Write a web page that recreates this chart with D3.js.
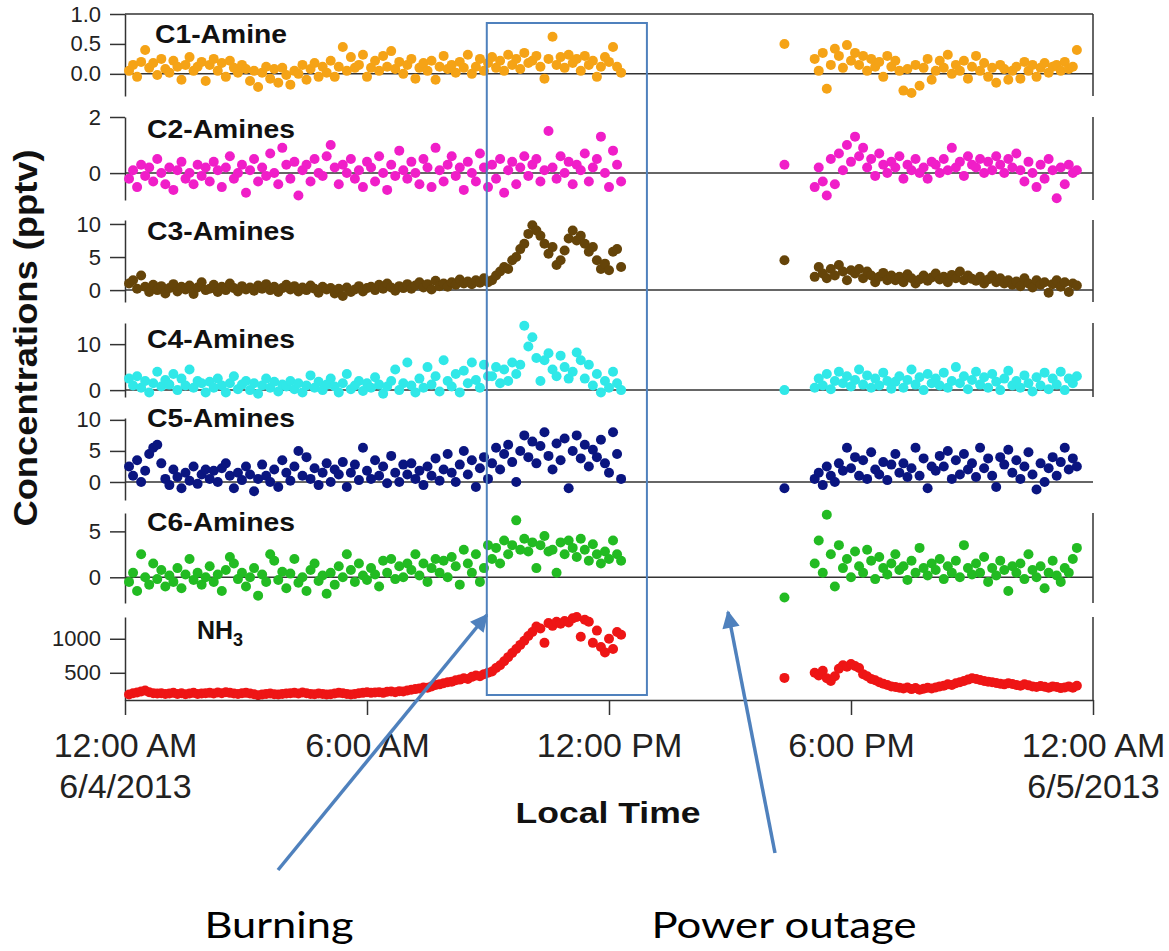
<!DOCTYPE html>
<html>
<head>
<meta charset="utf-8">
<script src="https://cdn.jsdelivr.net/npm/d3@7"></script>
<style>
  body { margin: 0; background: #fff; }
  svg { font-family: "Liberation Sans", Arial, sans-serif; }
</style>
</head>
<body>
<svg id="chart" width="1169" height="951"></svg>
<script>
// sampling: one reading every 6 minutes, morning run + evening run, one lone reading in between
var hoursA = d3.range(123).map(i => 0.1 + i * 0.1);   // 0:06 .. 12:18
var hoursB = d3.range(66).map(i => 17.1 + i * 0.1);   // 17:06 .. 23:36
var isoHour = 16.35;

var xTickHours = [0, 6, 12, 18, 24];

// C1-Amine (pptv)
var c1A = [0.05,0.15,-0.05,0.20,0.40,0.10,0.18,-0.02,0.25,0.08,
  0.02,0.22,0.12,-0.10,0.15,0.28,0.05,0.12,0.20,-0.12,
  0.15,0.25,0.05,0.18,-0.05,0.22,0.10,0.02,0.15,0.08,
  -0.12,0.05,-0.22,0.02,0.12,-0.08,0.08,-0.15,0.10,-0.02,
  -0.18,0.05,0.00,0.15,-0.10,0.08,0.18,-0.05,0.12,0.02,
  0.22,-0.05,0.12,0.45,0.05,0.28,0.10,0.15,0.32,-0.05,
  0.10,0.22,0.05,0.30,0.12,0.38,0.08,0.20,0.00,0.15,
  0.25,-0.08,0.10,0.18,0.05,0.22,-0.10,0.12,0.30,0.08,
  0.15,0.02,0.20,0.10,0.32,0.00,0.12,0.25,0.05,0.18,
  0.28,0.10,0.22,0.05,0.32,0.15,0.25,0.08,0.35,0.18,
  0.22,0.30,0.12,-0.08,0.25,0.62,0.15,0.28,0.10,0.32,
  0.18,0.25,0.05,0.30,0.15,0.22,-0.05,0.12,0.28,0.20,
  0.45,0.12,0.02];
var c1Iso = 0.50;
var c1B = [0.25,0.05,0.35,-0.25,0.15,0.42,0.30,0.10,0.48,0.22,
  0.35,0.15,0.30,0.05,0.25,0.12,0.20,-0.05,0.30,0.12,
  0.22,0.05,-0.28,0.08,-0.32,0.15,-0.20,0.10,0.25,-0.10,
  0.05,0.22,0.10,0.32,0.00,0.15,0.05,0.22,-0.08,0.12,
  0.30,0.05,0.18,-0.05,0.10,-0.15,0.15,0.08,-0.10,0.05,
  0.12,-0.08,0.20,0.05,0.15,-0.05,0.10,0.18,0.02,0.12,
  0.15,0.05,0.20,0.08,0.12,0.40];

// C2-Amines
var c2A = [-0.2,0.1,-0.5,0.3,-0.1,0.2,-0.3,0.5,0.0,-0.4,
  0.2,-0.6,0.1,0.4,-0.2,0.0,-0.4,0.3,-0.1,0.2,
  -0.3,0.4,0.1,-0.5,0.2,0.6,-0.2,0.0,0.3,-0.7,
  0.1,0.5,-0.3,0.2,-0.1,0.7,0.0,-0.4,0.9,0.3,
  -0.2,0.4,-0.8,0.1,0.3,-0.3,0.5,0.0,-0.1,0.6,
  1.0,0.2,-0.4,0.3,0.0,0.5,-0.2,0.1,-0.5,0.4,
  0.2,-0.3,0.6,0.0,-0.6,0.3,-0.1,0.8,0.1,-0.2,
  0.4,0.0,-0.4,0.5,0.2,-0.5,0.9,0.1,-0.3,0.3,
  0.6,-0.1,0.2,-0.6,0.4,0.0,-0.3,0.7,0.2,-0.5,
  0.3,-0.2,0.5,-0.7,0.1,0.4,-0.4,0.2,0.6,-0.1,
  0.3,0.5,-0.3,0.1,1.5,0.2,-0.2,0.6,0.0,0.4,
  -0.4,0.3,0.1,0.7,-0.3,0.2,0.5,1.3,0.0,-0.5,
  0.8,0.3,-0.3];
var c2Iso = 0.3;
var c2B = [-0.5,0.2,-0.3,-0.8,0.5,-0.4,0.7,0.1,1.0,0.4,
  1.3,0.6,0.9,0.2,0.5,-0.1,0.7,0.3,0.0,0.4,
  0.2,0.6,-0.2,0.3,0.1,0.5,0.0,0.2,-0.2,0.4,
  0.3,0.0,0.5,0.1,0.9,0.2,0.4,-0.1,0.6,0.3,
  0.2,0.5,0.0,0.4,0.1,0.6,0.3,0.0,0.5,0.2,
  0.7,0.1,-0.3,0.4,0.0,-0.5,0.3,-0.2,0.5,0.1,
  -0.9,0.2,-0.4,0.3,0.0,0.1];

// C3-Amines
var c3A = [1.0,1.5,0.2,2.2,0.5,-0.3,0.8,0.0,0.6,-0.5,
  0.3,0.9,-0.2,0.5,0.1,0.7,-0.6,0.4,1.2,0.0,
  0.2,0.8,-0.3,0.5,0.0,1.0,0.3,-0.2,0.6,0.1,
  0.4,-0.1,0.7,0.2,0.9,0.0,0.5,-0.3,0.3,0.8,
  0.1,0.6,-0.2,0.4,0.0,0.7,0.2,-0.4,0.5,0.1,
  0.3,-0.5,0.2,-0.9,0.4,-0.3,0.1,0.6,-0.2,0.3,
  0.5,0.0,0.8,0.2,1.0,0.4,-0.1,0.6,0.3,0.9,
  0.2,0.7,1.2,0.4,0.9,0.1,1.4,0.6,1.0,0.5,
  1.2,0.8,1.6,1.0,1.3,0.9,1.5,1.1,1.8,1.2,
  1.5,2.2,2.8,3.5,3.2,4.5,5.0,6.2,7.0,8.5,
  9.8,9.0,8.2,7.0,5.5,6.5,3.8,4.5,6.0,7.8,
  9.0,7.5,8.2,7.0,5.8,6.5,4.5,3.2,4.0,3.0,
  5.8,6.2,3.5];
var c3Iso = 4.5;
var c3B = [2.0,3.5,2.5,1.8,3.2,2.2,3.8,2.8,1.5,3.0,
  2.5,3.2,1.8,2.8,2.2,1.2,2.0,2.6,1.5,2.2,
  1.5,2.0,1.2,2.4,1.8,1.0,1.6,2.2,1.4,1.9,
  2.5,1.6,2.0,1.2,2.3,1.8,2.8,1.5,2.2,1.7,
  1.4,2.0,1.0,1.6,2.2,1.2,1.8,1.0,1.5,0.8,
  1.3,0.6,1.8,1.0,0.4,1.5,0.8,1.2,-0.4,0.9,
  1.5,0.5,1.2,-0.3,1.0,0.7];

// C4-Amines
var c4A = [2.5,1.0,3.0,0.5,2.0,-0.5,1.5,4.0,0.8,2.2,
  1.2,3.5,0.0,2.5,1.0,4.5,0.5,2.0,1.5,-0.5,
  1.8,0.5,2.5,1.0,-0.5,1.5,3.0,0.2,1.2,2.0,
  0.0,1.5,-0.8,1.0,2.5,0.5,1.8,-0.3,1.2,0.8,
  2.0,0.2,1.5,-0.5,1.0,3.2,0.5,1.8,0.0,1.2,
  2.5,0.8,-0.5,1.5,3.5,0.2,1.0,2.0,-0.2,1.5,
  0.5,2.8,1.2,-0.8,0.8,2.0,4.5,0.0,1.5,6.0,
  1.0,-0.5,2.5,0.5,5.0,1.2,3.0,-0.3,6.5,2.0,
  0.8,3.5,-0.5,4.2,1.5,6.0,2.2,0.5,5.5,3.0,
  3.0,5.0,1.5,4.5,2.0,6.0,3.5,5.5,14.0,9.5,
  11.5,7.0,2.0,6.5,8.0,4.5,3.0,7.5,5.0,2.5,
  4.0,8.2,6.5,2.5,5.5,1.0,3.5,-0.5,2.0,0.5,
  4.0,1.5,0.0];
var c4Iso = 0.0;
var c4B = [0.5,2.5,1.0,3.5,0.2,2.0,4.0,1.5,3.0,0.8,
  2.2,4.5,1.2,3.2,0.5,2.5,1.0,3.8,2.0,0.3,
  1.8,3.0,0.5,2.2,4.5,1.2,2.8,0.0,3.5,1.5,
  2.5,1.0,3.8,0.5,2.0,5.0,1.5,3.0,0.2,2.2,
  4.0,1.2,2.8,0.5,3.5,1.8,0.0,2.5,4.2,1.0,
  2.0,0.5,3.2,1.5,-0.3,2.8,1.0,3.8,0.2,2.5,
  1.2,4.0,0.0,2.5,1.5,3.0];

// C5-Amines
var c5A = [2.5,1.0,3.5,0.0,1.8,4.5,5.5,6.0,3.0,0.5,
  -0.5,2.0,0.8,-1.0,1.5,0.2,2.5,-0.3,1.2,2.0,
  0.5,1.8,0.0,2.2,3.0,1.0,-1.0,1.5,0.3,2.5,
  1.2,-1.5,0.5,2.8,1.0,0.0,2.0,-0.8,3.5,1.5,
  0.2,2.5,5.0,1.0,4.0,0.5,2.2,-0.5,1.5,3.0,
  0.0,2.0,1.2,3.2,-0.8,1.5,2.8,0.3,5.5,1.8,
  0.5,3.5,1.0,2.5,-0.2,4.2,1.5,0.0,2.8,1.2,
  3.0,0.5,1.8,-0.5,2.5,1.0,3.8,0.2,2.0,4.5,
  1.5,0.0,2.8,5.0,1.2,3.5,-0.8,2.2,4.0,0.5,
  3.0,5.5,2.0,4.5,6.0,3.2,0.0,5.0,7.5,4.0,
  6.5,3.0,5.8,8.0,4.2,2.0,6.2,3.5,7.0,-1.0,
  5.0,7.5,3.8,6.0,2.5,5.2,4.0,6.8,3.0,1.5,
  8.0,4.5,0.5];
var c5Iso = -1.0;
var c5B = [0.5,1.5,-0.5,2.5,1.0,0.0,3.0,1.8,5.5,2.2,
  4.0,1.0,3.5,0.5,4.8,2.0,1.2,3.2,0.3,2.8,
  4.5,1.5,3.0,0.8,2.2,5.5,1.0,3.8,-1.0,2.5,
  1.8,4.2,2.5,5.0,0.5,3.5,1.2,4.5,2.0,3.0,
  0.8,5.5,2.2,3.8,1.0,-0.8,4.0,2.8,5.2,1.5,
  3.5,0.5,2.5,4.8,1.2,-1.2,3.0,0.0,2.2,4.0,
  1.0,3.2,5.5,2.0,3.8,2.5];

// C6-Amines
var c6A = [-0.5,0.5,-1.5,2.5,0.0,-0.8,1.5,-0.2,0.8,-1.0,
  0.2,-0.5,1.0,-1.2,0.3,2.0,-0.3,0.5,-0.8,0.0,
  1.2,-0.5,0.3,-1.5,0.8,2.2,1.5,-0.2,0.5,-1.0,
  0.0,1.0,-2.0,0.3,-0.5,2.5,1.8,-0.3,0.6,-1.2,
  0.4,2.0,-0.6,0.0,-1.5,0.8,1.5,-0.4,0.2,-1.8,
  0.5,-0.8,1.2,0.0,2.5,0.8,-0.5,1.5,0.2,-0.3,
  1.0,0.3,-1.0,1.8,0.5,2.0,-0.2,1.2,0.0,1.5,
  0.8,2.5,0.2,1.5,-0.5,1.0,2.0,0.5,1.8,0.0,
  2.2,1.2,-0.8,3.0,1.5,0.5,2.5,-0.5,1.0,3.5,
  2.0,3.2,1.5,4.0,2.5,3.5,6.2,3.0,4.2,2.8,
  3.8,1.0,3.5,4.5,2.8,3.0,0.5,3.8,2.5,4.0,
  3.2,2.2,4.2,3.0,1.8,3.6,2.5,1.5,2.8,2.0,
  4.0,2.5,1.8];
var c6Iso = -2.2;
var c6B = [1.5,4.0,0.5,6.8,2.5,-1.0,3.5,1.0,2.0,0.0,
  2.8,1.2,0.5,3.0,1.8,-0.2,2.2,1.0,0.3,1.5,
  2.5,0.8,1.2,-0.3,1.8,0.5,3.2,1.0,0.2,1.5,
  0.8,2.0,-0.2,1.2,0.5,1.8,0.0,3.5,1.0,0.3,
  1.5,0.5,2.2,-0.5,1.0,0.2,1.8,0.8,-1.5,1.2,
  0.5,1.5,-0.2,2.5,0.8,0.0,1.2,-1.2,0.5,1.8,
  0.2,-0.5,1.0,0.5,2.0,3.2];

// NH3
var nh3A = [180,200,210,225,240,215,200,195,200,190,
  195,205,190,200,185,195,205,190,195,200,
  205,195,210,200,215,205,195,190,200,205,
  195,185,170,180,190,195,185,180,190,195,
  200,205,195,210,200,190,185,195,190,180,
  185,195,205,200,190,180,190,200,205,215,
  205,210,215,205,220,225,215,230,225,240,
  250,260,270,285,280,300,320,330,345,360,
  370,390,400,420,410,440,460,450,480,500,
  520,570,610,670,730,790,850,910,970,1040,
  1100,1180,1150,940,1230,1190,1250,1220,1260,1240,
  1300,1320,1030,1280,1250,940,1120,880,800,1000,
  850,1100,1060];
var nh3Iso = 425;
var nh3B = [500,460,530,420,380,450,560,610,590,630,
  600,570,480,450,410,390,360,340,320,300,
  290,280,270,285,260,275,250,265,280,270,
  285,300,310,330,320,345,360,380,400,420,
  410,395,380,370,360,350,340,330,345,335,
  320,310,330,315,300,290,305,295,280,300,
  290,275,285,300,280,310];

var day0 = new Date(2013, 5, 4);
function hr(h) { return new Date(day0.getTime() + h * 3600e3); }

var left = 125, right = 1093, axisY = 700;
var axisColor = "#333";

var svg = d3.select("#chart");
svg.append("rect").attr("width", 1169).attr("height", 951).attr("fill", "#fff");

var x = d3.scaleTime().domain([hr(0), hr(24)]).range([left, right]);

var panels = [
  {label: "C1-Amine", color: "#F5A316", a: c1A, iso: c1Iso, b: c1B, domain: [-0.37, 1.0], range: [96, 14],
   ticks: [0, 0.5, 1.0], fmt: d3.format(".1f"), zero: true, topLine: true, rightLine: true, lx: 155, ly: 43, lw: 132},
  {label: "C2-Amines", color: "#F01EC8", a: c2A, iso: c2Iso, b: c2B, domain: [-0.96, 2], range: [200, 117],
   ticks: [0, 2], fmt: d3.format("d"), zero: true, rightLine: true, lx: 147, ly: 138, lw: 148},
  {label: "C3-Amines", color: "#654409", a: c3A, iso: c3Iso, b: c3B, domain: [-1.8, 10.6], range: [302, 220],
   ticks: [0, 5, 10], fmt: d3.format("d"), zero: true, rightLine: true, lx: 147, ly: 240, lw: 148},
  {label: "C4-Amines", color: "#30E8E8", a: c4A, iso: c4Iso, b: c4B, domain: [-1.5, 14.6], range: [397, 323],
   ticks: [0, 10], fmt: d3.format("d"), zero: true, rightLine: true, lx: 147, ly: 348, lw: 148},
  {label: "C5-Amines", color: "#0A1580", a: c5A, iso: c5Iso, b: c5B, domain: [-2.9, 10.3], range: [500, 418],
   ticks: [0, 5, 10], fmt: d3.format("d"), zero: true, rightLine: false, lx: 147, ly: 427, lw: 148},
  {label: "C6-Amines", color: "#22BB22", a: c6A, iso: c6Iso, b: c6B, domain: [-2.8, 7.0], range: [603, 513],
   ticks: [0, 5], fmt: d3.format("d"), zero: true, rightLine: true, lx: 147, ly: 531, lw: 148},
  {label: "NH3", color: "#EE1515", a: nh3A, iso: nh3Iso, b: nh3B, domain: [100, 1320], range: [700, 617],
   ticks: [500, 1000], fmt: d3.format("d"), zero: false, rightLine: true, lx: 197, ly: 639}
];

panels.forEach(function(p) {
  var y = d3.scaleLinear().domain(p.domain).range(p.range);
  var g = svg.append("g");

  if (p.zero) {
    g.append("line").attr("x1", left).attr("x2", right).attr("y1", y(0)).attr("y2", y(0))
      .attr("stroke", axisColor).attr("stroke-width", 1.5);
  }
  if (p.topLine) {
    g.append("line").attr("x1", left).attr("x2", right).attr("y1", y(p.domain[1])).attr("y2", y(p.domain[1]))
      .attr("stroke", axisColor).attr("stroke-width", 1.5);
  }
  if (p.rightLine) {
    g.append("line").attr("x1", right).attr("x2", right).attr("y1", p.range[1]).attr("y2", p.range[0])
      .attr("stroke", axisColor).attr("stroke-width", 1.5);
  }

  var yAxis = d3.axisLeft(y).tickValues(p.ticks).tickFormat(p.fmt)
    .tickSize(15).tickSizeOuter(0).tickPadding(9);
  var ag = g.append("g").attr("transform", "translate(" + left + ",0)").call(yAxis);
  ag.attr("font-family", null).attr("font-size", null);
  ag.selectAll("path, line").attr("stroke", axisColor).attr("stroke-width", 1.5);
  ag.selectAll("text").attr("fill", "#222").style("font-size", "22px");

  var pts = p.a.map((v, i) => ({t: hr(hoursA[i]), v: v}));
  pts.push({t: hr(isoHour), v: p.iso});
  p.b.forEach((v, i) => pts.push({t: hr(hoursB[i]), v: v}));

  g.append("g").selectAll("circle").data(pts).join("circle")
    .attr("cx", d => x(d.t))
    .attr("cy", d => y(d.v))
    .attr("r", 5)
    .attr("fill", p.color);

  var lab = g.append("text").attr("x", p.lx).attr("y", p.ly)
    .attr("font-weight", "bold").attr("font-size", 25).attr("fill", "#111");
  if (p.label === "NH3") {
    lab.text("NH");
    lab.append("tspan").attr("dy", 7).attr("font-size", 18).text("3");
  } else {
    lab.text(p.label).attr("textLength", p.lw).attr("lengthAdjust", "spacingAndGlyphs");
  }
});

// bottom time axis
var xAxis = d3.axisBottom(x).tickValues(xTickHours.map(hr))
  .tickFormat(d3.timeFormat("%-I:%M %p")).tickSize(15).tickSizeOuter(0).tickPadding(18);
var xg = svg.append("g").attr("transform", "translate(0," + axisY + ")").call(xAxis);
xg.attr("font-family", null).attr("font-size", null);
xg.selectAll("path, line").attr("stroke", axisColor).attr("stroke-width", 1.5);
xg.selectAll("text").attr("fill", "#222").style("font-size", "34px");
xg.selectAll(".tick text").each(function(d, i) {
  if (i === 0 || i === xTickHours.length - 1) {
    var t = d3.select(this);
    var first = t.text();
    t.text(null);
    t.append("tspan").attr("x", 0).text(first);
    t.append("tspan").attr("x", 0).attr("dy", 41).text(d3.timeFormat("%-m/%-d/%Y")(d));
  }
});

svg.append("text").attr("x", 608).attr("y", 823).attr("text-anchor", "middle")
  .attr("font-weight", "bold").attr("font-size", 30).attr("fill", "#111")
  .attr("textLength", 185).attr("lengthAdjust", "spacingAndGlyphs")
  .text("Local Time");

svg.append("text").attr("transform", "translate(37,338) rotate(-90)").attr("text-anchor", "middle")
  .attr("font-weight", "bold").attr("font-size", 33).attr("fill", "#111")
  .attr("textLength", 377).attr("lengthAdjust", "spacingAndGlyphs")
  .text("Concentrations (pptv)");

// annotations: burning window and arrows
var annoColor = "#4F81BD";
svg.append("rect").attr("x", x(hr(8.97))).attr("y", 23)
  .attr("width", x(hr(12.94)) - x(hr(8.97))).attr("height", 672)
  .attr("fill", "none").attr("stroke", annoColor).attr("stroke-width", 2);

svg.append("defs").append("marker").attr("id", "arrow")
  .attr("viewBox", "0 0 10 10").attr("refX", 9).attr("refY", 5)
  .attr("markerWidth", 5.5).attr("markerHeight", 5).attr("orient", "auto")
  .append("path").attr("d", "M0,0 L10,5 L0,10 Z").attr("fill", annoColor);

var arrows = [
  {x1: 278, y1: 870, x2: x(hr(8.97)), y2: 615},
  {x1: 775, y1: 853, x2: x(hr(14.95)), y2: 612}
];
svg.selectAll(".arrow").data(arrows).join("line").attr("class", "arrow")
  .attr("x1", d => d.x1).attr("y1", d => d.y1).attr("x2", d => d.x2).attr("y2", d => d.y2)
  .attr("stroke", annoColor).attr("stroke-width", 3.5).attr("marker-end", "url(#arrow)");

var notes = [{text: "Burning", x: 279, w: 149}, {text: "Power outage", x: 784, w: 265}];
svg.selectAll(".note").data(notes).join("text").attr("class", "note")
  .attr("x", d => d.x).attr("y", 938).attr("text-anchor", "middle")
  .attr("font-family", "Lato, 'Open Sans', sans-serif").attr("font-size", 37).attr("fill", "#000")
  .attr("textLength", d => d.w).attr("lengthAdjust", "spacingAndGlyphs")
  .text(d => d.text);
</script>
</body>
</html>
